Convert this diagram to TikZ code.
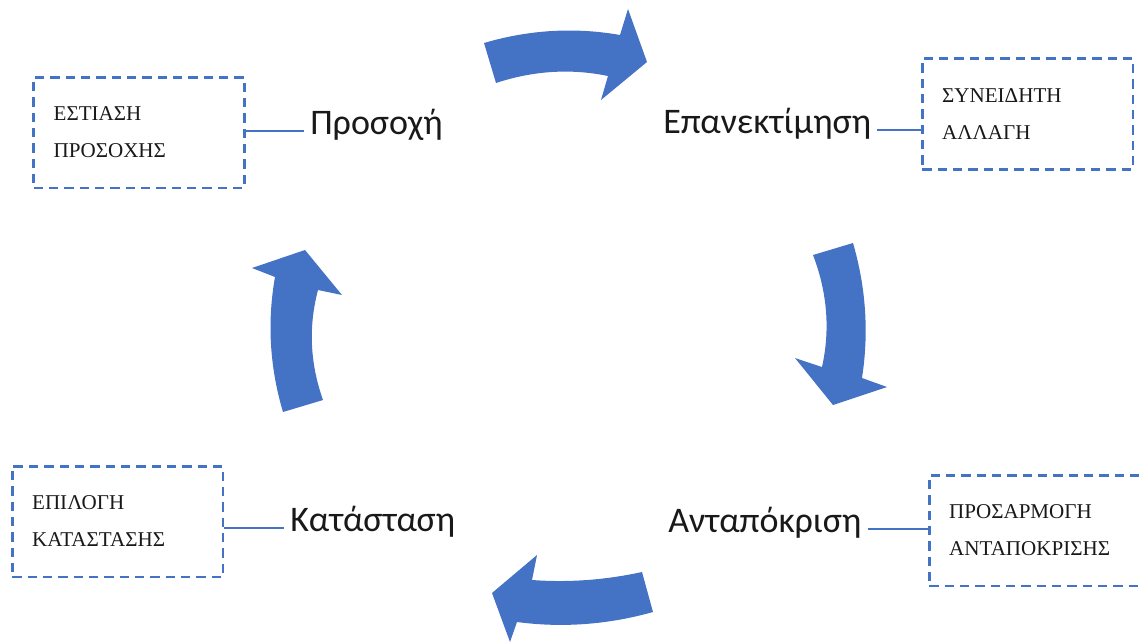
\documentclass[tikz,border=0pt]{standalone}
\usepackage{fontspec}
\setmainfont{Liberation Serif}
\newfontfamily\labelfont{Carlito}
\usetikzlibrary{positioning}
\definecolor{cycleblue}{HTML}{4472C4}

\begin{document}
\begin{tikzpicture}[
    x=0.75pt, y=-0.75pt,
    stage/.style={font=\labelfont\fontsize{27}{31}\selectfont, text=black!90, inner ysep=0pt, inner xsep=4.5pt, text height=0.75em, text depth=0.17em},
    notebox/.style={draw=cycleblue, line width=2pt, dash pattern=on 7pt off 4.5pt, minimum width=158pt, minimum height=83pt, text width=128pt, inner xsep=15pt, align=left, font=\fontsize{15.8}{27.75}\selectfont, text=black!90},
    link/.style={cycleblue, line width=0.8pt},
    bigarrow/.style={fill=cycleblue}
]
    \useasboundingbox (0,0) rectangle (1139,643);

    % Stages of the cycle
    \node[stage, anchor=west] (attention) at (304,131) {Προσοχή};
    \node[stage, anchor=west] (reappraisal) at (657,130) {Επανεκτίμηση};
    \node[stage, anchor=west] (response) at (662,529) {Ανταπόκριση};
    \node[stage, anchor=west] (situation) at (284,528) {Κατάσταση};

    % Strategy boxes
    \node[notebox] (focusbox) at (139,132.5) {ΕΣΤΙΑΣΗ\\ΠΡΟΣΟΧΗΣ};
    \node[notebox] (changebox) at (1027.5,114) {ΣΥΝΕΙΔΗΤΗ\\ΑΛΛΑΓΗ};
    \node[notebox, minimum width=152pt] (adjustbox) at (1034.5,530.5) {ΠΡΟΣΑΡΜΟΓΗ\\ΑΝΤΑΠΟΚΡΙΣΗΣ};
    \node[notebox] (choicebox) at (117.5,521.5) {ΕΠΙΛΟΓΗ\\ΚΑΤΑΣΤΑΣΗΣ};

    % Links
    \draw[link] (attention.west) -- (attention.west -| focusbox.east);
    \draw[link] (reappraisal.east) -- (reappraisal.east -| changebox.west);
    \draw[link] (response.east) -- (response.east -| adjustbox.west);
    \draw[link] (situation.west) -- (situation.west -| choicebox.east);

    % Curved block arrows
    \fill[bigarrow] (484,43) .. controls (529.3,29.7) and (574.7,27) .. (620,35) -- (628,9) -- (647,62) -- (601,100) -- (608,76) .. controls (570.7,68.3) and (533.3,70.7) .. (496,83) -- cycle;
    \fill[bigarrow] (853,243) .. controls (866,287.7) and (869,332.7) .. (862,378) -- (887,387) -- (833,405) -- (795,358) -- (822,367) .. controls (830.3,329.7) and (827.3,292.3) .. (813,255) -- cycle;
    \fill[bigarrow] (653,612) .. controls (607.7,624.7) and (562.3,628) .. (517,622) -- (510,642) -- (492,593) -- (537,555) -- (532,580) .. controls (568.7,582.7) and (605.3,580) .. (642,572) -- cycle;
    \fill[bigarrow] (283,412) .. controls (269.7,367.3) and (267,322.3) .. (275,277) -- (252,268) -- (305,250) -- (342,295) -- (318,290) .. controls (308.3,326.7) and (310,363.3) .. (323,400) -- cycle;
\end{tikzpicture}
\end{document}
